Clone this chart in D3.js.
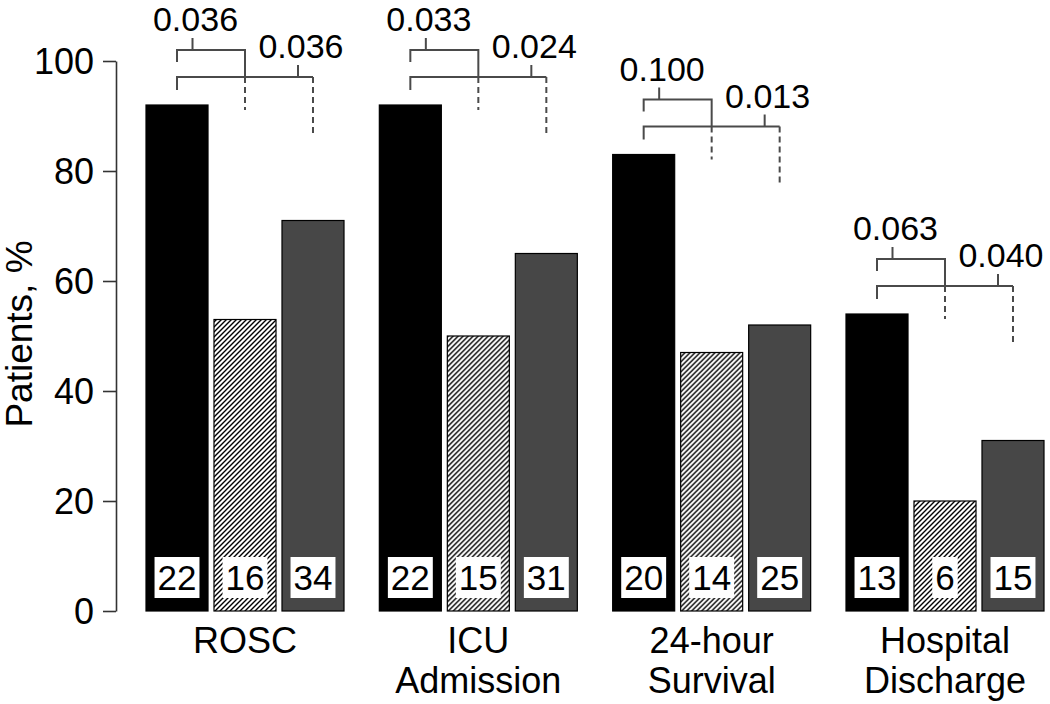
<!DOCTYPE html>
<html>
<head>
<meta charset="utf-8">
<script src="https://cdn.jsdelivr.net/npm/d3@7"></script>
<style>
  html, body { margin: 0; padding: 0; background: #fff; }
  svg { display: block; }
  text { font-family: "Liberation Sans", Arial, sans-serif; fill: #000; }
</style>
</head>
<body>
<svg id="chart" width="1050" height="704"></svg>
<script>
// ---- data ----
const categories = [["ROSC"], ["ICU", "Admission"], ["24-hour", "Survival"], ["Hospital", "Discharge"]];
const seriesNames = ["A", "B", "C"];
const percentA = [92, 92, 83, 54];
const percentB = [53, 50, 47, 20];
const percentC = [71, 65, 52, 31];
const countA = [22, 22, 20, 13];
const countB = [16, 15, 14, 6];
const countC = [34, 31, 25, 15];
const pAB = ["0.036", "0.033", "0.100", "0.063"];
const pAC = ["0.036", "0.024", "0.013", "0.040"];
const yTicks = [0, 20, 40, 60, 80, 100];

const percents = [percentA, percentB, percentC];
const counts = [countA, countB, countC];

const svg = d3.select("#chart");
const font = "Liberation Sans, Arial, sans-serif";

// pattern for hatched series
const defs = svg.append("defs");
const pat = defs.append("pattern")
  .attr("id", "hatch").attr("patternUnits", "userSpaceOnUse")
  .attr("width", 5).attr("height", 5);
pat.append("rect").attr("width", 5).attr("height", 5).attr("fill", "#fff");
pat.append("path").attr("d", "M-1,1 l2,-2 M0,5 l5,-5 M4,6 l2,-2")
  .attr("stroke", "#000").attr("stroke-width", 1.4);

const fills = ["#000", "url(#hatch)", "#474747"];

// scales
const catKeys = categories.map(c => c.join(" "));
const x0 = d3.scaleBand().domain(catKeys).range([146, 1044]).paddingInner(0.1514).paddingOuter(0);
const x1 = d3.scaleBand().domain(seriesNames).range([0, x0.bandwidth()]).paddingInner(0.088);
const y = d3.scaleLinear().domain([0, 100]).range([611, 61]);

// y axis
const yAxis = svg.append("g").attr("transform", "translate(116,0)")
  .call(d3.axisLeft(y).tickValues(yTicks).tickSize(13).tickPadding(9).tickSizeOuter(0));
yAxis.select(".domain").attr("stroke", "#333").attr("stroke-width", 1.6);
yAxis.selectAll(".tick line").attr("stroke", "#333").attr("stroke-width", 1.6);
yAxis.selectAll(".tick text").attr("font-size", 36).attr("font-family", font).attr("fill", "#000").attr("dy", "0.35em");

svg.append("text")
  .attr("transform", "translate(32,334) rotate(-90)")
  .attr("text-anchor", "middle").attr("font-size", 37)
  .text("Patients, %");

// bars
const groups = svg.append("g").selectAll("g").data(catKeys).join("g")
  .attr("transform", d => `translate(${x0(d)},0)`);

groups.each(function(cat, ci) {
  const g = d3.select(this);
  seriesNames.forEach((s, si) => {
    const v = percents[si][ci];
    g.append("rect")
      .attr("x", x1(s)).attr("width", x1.bandwidth())
      .attr("y", y(v)).attr("height", y(0) - y(v))
      .attr("fill", fills[si]).attr("stroke", "#000").attr("stroke-width", 1.2);
    // count labels
    const cx = x1(s) + x1.bandwidth() / 2;
    const t = g.append("text")
      .attr("x", cx).attr("y", y(0) - 21)
      .attr("text-anchor", "middle").attr("font-size", 35)
      .text(counts[si][ci]);
    const bb = t.node().getBBox();
    g.insert("rect", function() { return t.node(); })
      .attr("x", bb.x - 3).attr("width", bb.width + 6)
      .attr("y", y(0) - 54).attr("height", 41)
      .attr("fill", "#fff");
  });

  // category labels
  const lines = categories[ci];
  lines.forEach((ln, li) => {
    g.append("text")
      .attr("x", x0.bandwidth() / 2).attr("y", 653 + li * 40)
      .attr("text-anchor", "middle").attr("font-size", 36)
      .text(ln);
  });

  // brackets
  const xa = x1("A") + x1.bandwidth() / 2;
  const xb = x1("B") + x1.bandwidth() / 2;
  const xc = x1("C") + x1.bandwidth() / 2;
  const b1 = y(percentA[ci]) - 55;
  const b2 = b1 + 27;
  const lc = "#4a4a4a", lw = 2;
  const br = g.append("g").attr("stroke", lc).attr("stroke-width", lw).attr("fill", "none");
  // bracket 1 (A vs B)
  br.append("path").attr("d", `M${xa},${b1 + 12} V${b1} H${xb} V${b2}`);
  br.append("path").attr("d", `M${xb},${b2} V${b1 + 60}`).attr("stroke-dasharray", "6,4");
  const t1 = xa + 15.5;
  br.append("path").attr("d", `M${t1},${b1} V${b1 - 12}`);
  // bracket 2 (A vs C)
  br.append("path").attr("d", `M${xa},${b2 + 13} V${b2} H${xc}`);
  br.append("path").attr("d", `M${xc},${b2} V${b2 + 60}`).attr("stroke-dasharray", "6,4");
  const t2 = xc - 15;
  br.append("path").attr("d", `M${t2},${b2} V${b2 - 12}`);

  g.append("text").attr("x", t1 + 3).attr("y", b1 - 19)
    .attr("text-anchor", "middle").attr("font-size", 34).text(pAB[ci]);
  g.append("text").attr("x", t2 + 3).attr("y", b2 - 19)
    .attr("text-anchor", "middle").attr("font-size", 34).text(pAC[ci]);
});
</script>
</body>
</html>
